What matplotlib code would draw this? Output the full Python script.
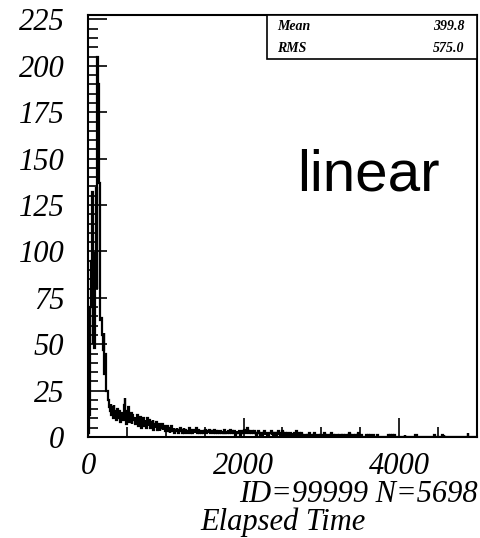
import numpy as np
import matplotlib
matplotlib.use('Agg')
from matplotlib import pyplot as plt
from matplotlib.patches import Rectangle
from matplotlib.ticker import MultipleLocator

# histogram of elapsed time, 10 units per bin, 0..5000 (one row = 200 units)
BIN_WIDTH = 10
X_MAX = 5000
counts = [
    2, 12, 35, 70, 95, 132, 50, 99, 48, 90, 134, 80, 205, 190, 137, 106, 63, 64, 55, 47,
    56, 34, 45, 25, 25, 25, 20, 16, 14, 18, 12, 16, 10, 17, 11, 14, 9, 15, 12, 10,
    14, 8, 12, 11, 13, 9, 17, 21, 12, 7, 14, 9, 16, 8, 11, 13, 7, 12, 9, 10,
    11, 7, 9, 12, 6, 10, 8, 11, 5, 9, 7, 10, 6, 8, 9, 5, 10, 7, 6, 9,
    5, 8, 6, 9, 4, 7, 6, 5, 8, 4, 6, 7, 3, 6, 5, 7, 4, 5, 6, 3,
    5, 4, 6, 3, 5, 2, 4, 6, 3, 4, 5, 2, 4, 3, 5, 4, 2, 3, 5, 3,
    4, 2, 3, 5, 2, 4, 3, 2, 4, 3, 5, 2, 3, 4, 2, 3, 4, 2, 3, 5,
    2, 3, 4, 2, 3, 2, 4, 3, 2, 3, 2, 4, 2, 3, 3, 2, 4, 2, 3, 2,
    3, 2, 4, 2, 2, 3, 2, 3, 4, 2, 3, 2, 2, 3, 2, 4, 2, 3, 2, 2,
    3, 2, 2, 4, 2, 3, 2, 2, 3, 1, 2, 3, 2, 2, 3, 2, 1, 2, 3, 2,
    3, 4, 3, 2, 4, 5, 3, 2, 3, 4, 2, 3, 2, 2, 3, 2, 1, 2, 2, 3,
    2, 1, 2, 2, 1, 2, 3, 1, 2, 2, 1, 2, 1, 2, 2, 3, 1, 2, 1, 2,
    1, 2, 1, 2, 3, 1, 2, 1, 1, 2, 3, 2, 1, 2, 1, 1, 2, 1, 2, 1,
    2, 1, 1, 2, 1, 2, 1, 1, 3, 1, 1, 2, 1, 1, 2, 1, 1, 0, 1, 1,
    1, 0, 1, 1, 2, 1, 1, 1, 0, 1, 1, 2, 1, 1, 1, 1, 1, 0, 1, 1,
    1, 1, 0, 1, 2, 1, 0, 1, 1, 1, 0, 1, 1, 2, 1, 1, 0, 1, 1, 1,
    1, 0, 0, 1, 1, 1, 0, 1, 1, 0, 1, 1, 1, 0, 1, 1, 2, 1, 0, 1,
    1, 1, 0, 1, 1, 0, 1, 2, 1, 0, 0, 1, 0, 0, 0, 0, 0, 1, 0, 0,
    1, 0, 0, 1, 0, 0, 1, 0, 0, 0, 0, 1, 1, 0, 0, 0, 0, 0, 0, 0,
    0, 0, 0, 0, 0, 0, 1, 0, 1, 0, 0, 1, 0, 1, 0, 0, 0, 0, 0, 0,
    0, 0, 0, 0, 0, 0, 0, 1, 0, 0, 0, 0, 0, 0, 0, 0, 0, 0, 0, 0,
    1, 1, 1, 0, 0, 0, 0, 0, 0, 0, 0, 0, 0, 0, 0, 0, 0, 0, 0, 0,
    0, 0, 0, 0, 0, 1, 0, 0, 0, 0, 0, 0, 0, 0, 0, 1, 0, 1, 0, 0,
    0, 0, 0, 0, 0, 0, 0, 0, 0, 0, 0, 0, 0, 0, 0, 0, 0, 0, 0, 0,
    0, 0, 0, 0, 0, 0, 0, 0, 2, 0, 0, 0, 0, 0, 0, 0, 0, 0, 0, 0,
]
stat_names = ['Mean', 'RMS']
stat_values = ['399.8', '575.0']
hist_id = 99999
n_entries = 5698

edges = np.arange(0, X_MAX + BIN_WIDTH, BIN_WIDTH)

serif = 'Liberation Serif'
fig = plt.figure(figsize=(4.8, 5.38), dpi=100)
ax = fig.add_axes([0.1833, 0.1877, 0.8104, 0.7844])
ax.stairs(counts, edges, color='black', lw=1.6)

ax.set_xlim(0, X_MAX)
ax.set_ylim(0, 227.4)
ax.xaxis.set_major_locator(MultipleLocator(2000))
ax.xaxis.set_minor_locator(MultipleLocator(500))
ax.yaxis.set_major_locator(MultipleLocator(25))
ax.yaxis.set_minor_locator(MultipleLocator(5))
ax.tick_params(which='both', direction='in', width=1.2, colors='black')
ax.tick_params(which='major', length=14, labelsize=22)
ax.tick_params(which='minor', length=7.5)
ax.tick_params(axis='y', which='major', pad=17)
ax.tick_params(axis='x', which='major', pad=11)
for lab in ax.get_xticklabels() + ax.get_yticklabels():
    lab.set_fontfamily(serif)
    lab.set_fontstyle('italic')
for sp in ax.spines.values():
    sp.set_linewidth(1.5)

# stats box
ax.add_patch(Rectangle((0.46, 0.8957), 0.54, 0.1043, transform=ax.transAxes,
                       facecolor='white', edgecolor='black', lw=1.2, zorder=5,
                       clip_on=False))
for i, (name, val) in enumerate(zip(stat_names, stat_values)):
    y = 0.972 - i * 0.052
    ax.text(0.486, y, name, transform=ax.transAxes, fontsize=10, family=serif,
            style='italic', weight='bold', va='center', ha='left', zorder=6)
    ax.text(0.967, y, val, transform=ax.transAxes, fontsize=10, family=serif,
            style='italic', weight='bold', va='center', ha='right', zorder=6)

fig.text(0.619, 0.6468, 'linear', fontsize=42, family='Liberation Sans',
         va='baseline', ha='left')
fig.text(0.996, 0.081, f'ID={hist_id} N={n_entries}', fontsize=22, family=serif,
         style='italic', va='center', ha='right')
fig.text(0.59, 0.030, 'Elapsed Time', fontsize=22, family=serif,
         style='italic', va='center', ha='center')

fig.savefig('out.png', dpi=100)
